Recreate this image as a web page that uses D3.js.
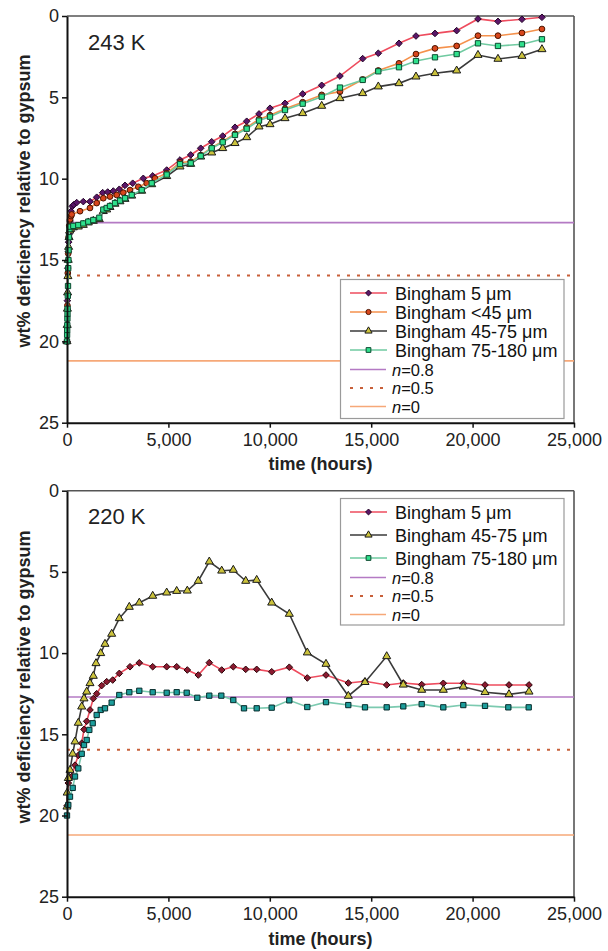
<!DOCTYPE html>
<html><head><meta charset="utf-8">
<script src="https://cdn.jsdelivr.net/npm/d3@7"></script>
<style>
html,body{margin:0;padding:0;background:#fff;}
svg{display:block;font-family:Arial,"Liberation Sans",sans-serif;}
</style>
</head><body>
<svg id="chart" width="608" height="951"></svg>
<script>
// ---------------- DATA ----------------
const xTicks = [0, 5000, 10000, 15000, 20000, 25000];
const yTicks = [0, 5, 10, 15, 20, 25];
const panelLabels = ["243 K", "220 K"];
const seriesNames = ["Bingham 5 μm", "Bingham <45 μm", "Bingham 45-75 μm", "Bingham 75-180 μm"];
const refNames = ["0.8", "0.5", "0"];
const refValues = [12.7, 15.95, 21.2];

// 243 K
const t243_5 = [0,20,40,60,80,110,150,200,260,330,478,804,1134,1464,1760,2007,2283,2579,2860,3240,3762,4226,4916,5572,6100,6593,7135,7678,8284,8861,9468,10010,10750,11622,12559,13460,14580,15350,16370,17208,18145,19214,20265,21251,22434,23420];
const v243_5 = [20,17.5,15.5,14.5,13.9,13.4,12.6,12.0,11.7,11.6,11.47,11.41,11.41,11.14,10.86,10.82,10.76,10.65,10.41,10.28,9.98,9.83,9.47,8.85,8.54,8.13,7.73,7.38,6.84,6.47,6.02,5.67,5.37,4.79,4.26,3.69,2.62,2.29,1.68,1.23,1.07,0.90,0.18,0.33,0.20,0.08];

const t243_45 = [0,20,40,60,80,110,150,200,232,641,1134,1464,1790,2120,2451,2776,3107,3516,3930,4339,4916,5572,6100,6593,7135,7678,8284,8861,9468,10010,10750,11622,12559,13460,14580,15350,16370,17208,18145,19214,20265,21251,22434,23420];
const v243_45 = [20,17.8,15.8,14.6,13.6,12.9,12.5,12.3,12.2,12.0,11.8,11.5,11.2,11.1,11.0,10.86,10.7,10.5,10.28,9.98,9.67,9.0,8.95,8.55,8.1,7.7,7.25,6.85,6.35,6.1,5.7,5.3,4.85,4.65,3.9,3.35,2.91,2.34,1.99,1.84,1.21,1.21,1.04,0.80];

const t243_4575 = [0,10,20,30,45,60,80,100,130,180,311,557,804,1050,1297,1593,1790,1958,2120,2367,2613,2860,3190,3683,4177,4916,5572,6100,6593,7135,7678,8284,8861,9468,10010,10750,11622,12559,13460,14580,15350,16370,17208,18145,19214,20265,21251,22434,23420];
const v243_4575 = [20,19,18,17,16,15,14.2,13.6,13.2,13.1,13.0,12.95,12.85,12.7,12.6,12.5,12.0,11.9,11.75,11.55,11.4,11.25,11.05,10.75,10.35,9.85,9.26,9.10,8.65,8.40,8.13,7.82,7.46,6.80,6.66,6.29,5.98,5.53,5.06,4.75,4.34,4.14,3.73,3.52,3.36,2.40,2.64,2.46,2.05];

const t243_75 = [0,5,10,15,20,25,30,40,50,60,70,80,100,120,150,311,557,804,1050,1297,1593,1790,1958,2120,2367,2613,2860,3190,3683,4177,4916,5572,6100,6593,7135,7678,8284,8861,9468,10010,10750,11622,12559,13460,14580,15350,16370,17208,18145,19214,20265,21251,22434,23420];
const v243_75 = [20,19.6,19.3,19.0,18.6,18.3,18.0,17.2,16.6,15.5,15.0,14.4,13.6,13.1,12.95,12.9,12.85,12.75,12.64,12.54,12.4,11.9,11.8,11.68,11.5,11.35,11.2,11.0,10.7,10.28,9.75,9.1,9.05,8.6,8.13,7.76,7.31,6.93,6.43,6.19,5.78,5.39,4.96,4.40,3.93,3.40,3.15,2.77,2.54,2.34,1.68,1.84,1.74,1.43];

// 220 K
const t220_5 = [0,64,232,395,557,725,838,971,1134,1297,1464,1711,1958,2253,2579,3107,3565,4226,4916,5409,5932,6474,7016,7628,8200,8812,9354,10094,10962,11849,12771,13871,14694,15764,16583,17490,18556,19542,20612,21795,22781];
const v220_5 = [19.4,18.0,17.6,16.9,16.3,15.55,14.7,14.2,13.5,12.8,12.5,12.0,11.76,11.66,11.25,10.84,10.6,10.84,10.84,10.84,11.04,11.35,10.59,11.04,10.84,11.0,11.0,11.15,10.87,11.53,11.35,11.84,11.73,11.96,11.84,11.94,11.86,11.86,11.96,11.96,11.96];

const t220_4575 = [0,10,64,148,281,395,557,725,838,971,1134,1297,1430,1661,1873,2203,2579,3072,3565,4226,4916,5409,5932,6474,7016,7628,8200,8812,9354,10094,10962,11849,12771,13871,14694,15764,16583,17490,18556,19542,20612,21795,22781];
const v220_4575 = [19.46,18.6,17.7,17.2,16.2,15.45,14.3,13.3,12.8,12.38,11.86,11.41,10.63,10.01,9.44,8.82,7.86,7.16,6.9,6.48,6.28,6.18,6.16,5.56,4.37,4.93,4.88,5.56,5.5,6.9,7.59,9.97,10.67,12.64,11.79,10.2,11.95,12.27,12.27,12.07,12.41,12.54,12.38];

const t220_75 = [0,64,148,281,395,557,725,838,971,1100,1267,1464,1661,1873,2203,2579,3072,3565,4226,4916,5409,5902,6425,7016,7609,8200,8728,9354,10094,10962,11849,12771,13871,14694,15764,16583,17490,18556,19542,20612,21762,22766];
const v220_75 = [20.0,19.35,18.84,18.3,17.6,17.1,16.2,15.66,15.35,14.73,14.32,13.81,13.5,13.4,13.05,12.58,12.41,12.32,12.41,12.44,12.41,12.44,12.75,12.62,12.62,12.89,13.4,13.4,13.36,12.91,13.32,13.02,13.2,13.34,13.34,13.28,13.14,13.34,13.2,13.25,13.34,13.34];

// ---------------- STYLE ----------------
const diamondSym = d3.symbolDiamond2 || d3.symbolDiamond;
const styles = [
  {line:"#ee4c5e", fill:"#5a1668", stroke:"#240628", sym:diamondSym, size:28},
  {line:"#f5914c", fill:"#d8461c", stroke:"#4a1400", sym:d3.symbolCircle, size:26},
  {line:"#3a3a3a", fill:"#cbc23c", stroke:"#1a1a1a", sym:d3.symbolTriangle, size:28},
  {line:"#6fcaa0", fill:"#2fe08c", stroke:"#0c4a30", sym:d3.symbolSquare, size:28}
];
const refStyles = [
  {color:"#b47ac4", dash:null, w:1.6},
  {color:"#c8603a", dash:"3,7", w:2},
  {color:"#f6a878", dash:null, w:1.6}
];

const panels = [
  {top:16, bottom:422.7, label:panelLabels[0], labelY:50, xTitleY:470, yTitleY:201,
   series:[
     {idx:0, t:t243_5, v:v243_5},
     {idx:1, t:t243_45, v:v243_45},
     {idx:2, t:t243_4575, v:v243_4575},
     {idx:3, t:t243_75, v:v243_75}
   ],
   legend:{x:340.5, y:279.5, w:223.5, h:139, rows:[293,312,331,350,369.5,388,406.5]}},
  {top:490.7, bottom:896.7, label:panelLabels[1], labelY:524, xTitleY:945, yTitleY:677,
   series:[
     {idx:0, t:t220_5, v:v220_5, fill:"#8a1a30", stroke:"#2a0508"},
     {idx:2, t:t220_4575, v:v220_4575},
     {idx:3, t:t220_75, v:v220_75, fill:"#1c9e9c", stroke:"#062a2a", line:"#7ccab0"}
   ],
   legend:{x:340.5, y:498.5, w:223.5, h:126.5, rows:[512,535,558,577.5,596,614.5]}}
];

const svg = d3.select("#chart");
const X0 = 67, X1 = 574;
const x = d3.scaleLinear().domain([0, 25000]).range([X0, X1]);

panels.forEach(p => {
  const y = d3.scaleLinear().domain([0, 25]).range([p.top, p.bottom]);
  const g = svg.append("g");

  g.append("line").attr("x1", X0).attr("x2", X1).attr("y1", p.top).attr("y2", p.top)
    .attr("stroke", "#555").attr("stroke-width", 1.6);
  g.append("line").attr("x1", X1).attr("x2", X1).attr("y1", p.top).attr("y2", p.bottom)
    .attr("stroke", "#555").attr("stroke-width", 1.6);

  refValues.forEach((rv, i) => {
    g.append("line").attr("x1", X0).attr("x2", X1).attr("y1", y(rv)).attr("y2", y(rv))
      .attr("stroke", refStyles[i].color).attr("stroke-width", refStyles[i].w)
      .attr("stroke-dasharray", refStyles[i].dash);
  });

  p.series.forEach(s => {
    const st = styles[s.idx];
    const pts = s.t.map((t, i) => [t, s.v[i]]);
    g.append("path").datum(pts)
      .attr("fill", "none").attr("stroke", s.line || st.line).attr("stroke-width", 1.6)
      .attr("d", d3.line().x(d => x(d[0])).y(d => y(d[1])));
    g.selectAll(null).data(pts).enter().append("path")
      .attr("transform", d => `translate(${x(d[0])},${y(d[1])})`)
      .attr("d", d3.symbol().type(st.sym).size(st.size))
      .attr("fill", s.fill || st.fill).attr("stroke", s.stroke || st.stroke).attr("stroke-width", 1);
  });

  const ya = g.append("g").attr("transform", `translate(${X0},0)`)
    .call(d3.axisLeft(y).tickValues(yTicks).tickSize(5).tickPadding(3).tickSizeOuter(0));
  const xa = g.append("g").attr("transform", `translate(0,${p.bottom})`)
    .call(d3.axisBottom(x).tickValues(xTicks).tickFormat(d3.format(",")).tickSize(5).tickPadding(6).tickSizeOuter(0));
  [ya, xa].forEach(a => {
    a.select(".domain").attr("stroke", "#111").attr("stroke-width", 2);
    a.selectAll(".tick line").attr("stroke", "#111").attr("stroke-width", 1.5);
    a.selectAll(".tick text").attr("font-size", 18).attr("fill", "#222")
      .attr("font-family", "Arial, 'Liberation Sans', sans-serif");
  });

  g.append("text").attr("x", 88).attr("y", p.labelY).attr("font-size", 22).attr("fill", "#222")
    .text(p.label);

  g.append("text").attr("x", (X0 + X1) / 2).attr("y", p.xTitleY).attr("text-anchor", "middle")
    .attr("font-size", 18).attr("font-weight", "bold").attr("fill", "#222").text("time (hours)");
  g.append("text").attr("transform", `translate(30,${p.yTitleY}) rotate(-90)`)
    .attr("text-anchor", "middle").attr("font-size", 18).attr("font-weight", "bold").attr("fill", "#222")
    .text("wt% deficiency relative to gypsum");

  const L = p.legend;
  const lg = g.append("g");
  lg.append("rect").attr("x", L.x).attr("y", L.y).attr("width", L.w).attr("height", L.h)
    .attr("fill", "#fff").attr("stroke", "#9a9a9a").attr("stroke-width", 1.2);
  const entries = p.series.map(s => ({type:"s", idx:s.idx}))
    .concat(refNames.map((n, i) => ({type:"r", idx:i})));
  entries.forEach((e, k) => {
    const ry = L.rows[k];
    const row = lg.append("g");
    if (e.type === "s") {
      const st = styles[e.idx];
      row.append("line").attr("x1", 350).attr("x2", 387).attr("y1", ry).attr("y2", ry)
        .attr("stroke", st.line).attr("stroke-width", 1.6);
      row.append("path").attr("transform", `translate(368.5,${ry})`)
        .attr("d", d3.symbol().type(st.sym).size(st.size * 0.8))
        .attr("fill", st.fill).attr("stroke", st.stroke).attr("stroke-width", 1);
      row.append("text").attr("x", 395).attr("y", ry + 6.5).attr("font-size", 18).attr("fill", "#111")
        .text(seriesNames[e.idx]);
    } else {
      const rs = refStyles[e.idx];
      row.append("line").attr("x1", 350).attr("x2", 386).attr("y1", ry).attr("y2", ry)
        .attr("stroke", rs.color).attr("stroke-width", rs.w).attr("stroke-dasharray", rs.dash);
      const tx = row.append("text").attr("x", 392).attr("y", ry + 6).attr("font-size", 16.5).attr("fill", "#111");
      tx.append("tspan").attr("font-style", "italic").text("n");
      tx.append("tspan").text("=" + refNames[e.idx]);
    }
  });
});
</script>
</body></html>
